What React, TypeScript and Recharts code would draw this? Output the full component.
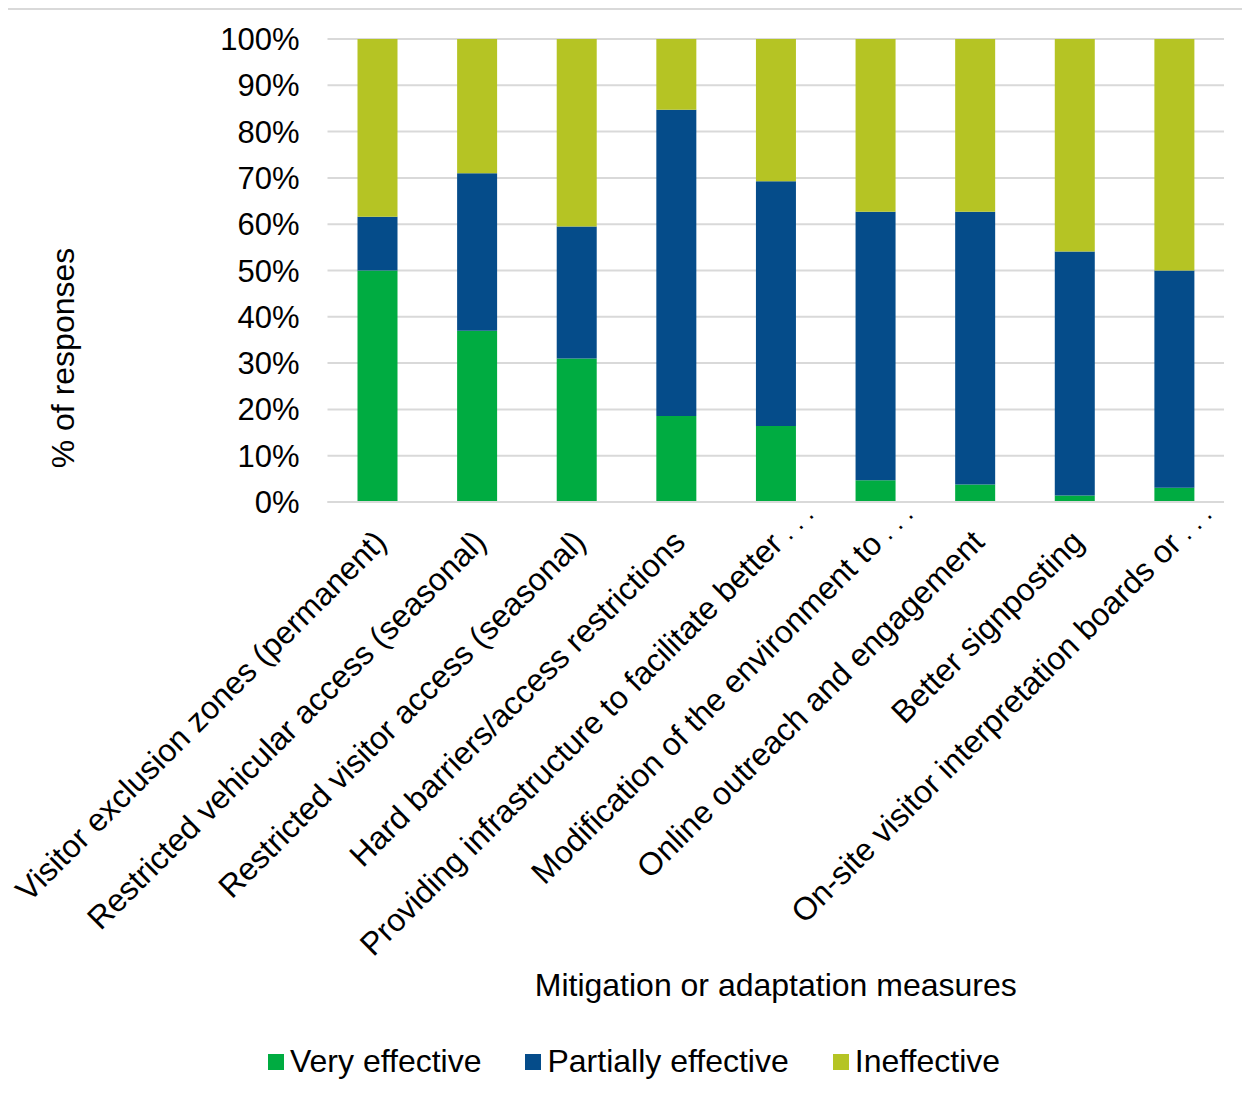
import React from 'react';
import { BarChart, Bar, XAxis, YAxis, CartesianGrid, Label } from 'recharts';

const categories = [
  'Visitor exclusion zones (permanent)',
  'Restricted vehicular access (seasonal)',
  'Restricted visitor access (seasonal)',
  'Hard barriers/access restrictions',
  'Providing infrastructure to facilitate better …',
  'Modification of the environment to…',
  'Online outreach and engagement',
  'Better signposting',
  'On-site visitor interpretation boards or…',
];

const veryEffective = [50, 37, 31, 18.6, 16.4, 4.7, 3.8, 1.4, 3.1];
const partiallyEffective = [11.6, 34, 28.5, 66.1, 52.9, 58, 58.9, 52.7, 46.9];
const ineffective = [38.4, 29, 40.5, 15.3, 30.7, 37.3, 37.3, 45.9, 50];

const yTicks = [0, 10, 20, 30, 40, 50, 60, 70, 80, 90, 100];

const series = [
  { key: 'very', name: 'Very effective', color: '#00ac41' },
  { key: 'partial', name: 'Partially effective', color: '#054c8a' },
  { key: 'ineffective', name: 'Ineffective', color: '#b5c424' },
];

const data = categories.map((name, i) => ({
  name,
  very: veryEffective[i],
  partial: partiallyEffective[i],
  ineffective: ineffective[i],
}));

const FONT = '"Liberation Sans", Arial, sans-serif';

// truncated labels: Excel draws the ellipsis as small spaced dots and
// keeps some room after it, so those labels sit further up the diagonal
const XTick = ({ x, y, payload }: any) => {
  const label: string = payload.value;
  const cut = label.endsWith('…');
  const base = cut ? label.slice(0, -1).trimEnd() : label;
  return (
    <g transform={`translate(${x + 11},${y + 42}) rotate(-45)`}>
      <text x={cut ? 40 : 0} textAnchor='end' fontSize={32} fontFamily={FONT} fill='#000'>
        {base}
        {cut && (
          <tspan fontSize={26} dx={7}>
            . . .
          </tspan>
        )}
      </text>
    </g>
  );
};

const YTitle = () => (
  <text
    transform='translate(66,350) rotate(-90)'
    textAnchor='middle'
    fontSize={32}
    fontFamily={FONT}
    fill='#000'
  >
    % of responses
  </text>
);

export default function App() {
  return (
    <div style={{ position: 'relative', width: 1242, height: 1091 }}>
      <BarChart
        width={1242}
        height={1091}
        data={data}
        margin={{ top: 31, right: 26, left: 0, bottom: 97 }}
        barSize={40}
      >
        <CartesianGrid vertical={false} stroke='#d9d9d9' strokeWidth={2} />
        <XAxis
          dataKey='name'
          interval={0}
          height={500}
          tick={<XTick />}
          tickLine={false}
          tickSize={0}
          tickMargin={0}
          axisLine={{ stroke: '#d9d9d9', strokeWidth: 2 }}
        >
          <Label
            value='Mitigation or adaptation measures'
            position='insideBottom'
            offset={6}
            fontSize={32}
            fontFamily={FONT}
            fill='#000'
          />
        </XAxis>
        <YAxis
          width={319.5}
          domain={[0, 100]}
          ticks={yTicks}
          interval={0}
          tickFormatter={v => `${v}%`}
          tick={{ fontSize: 31, fontFamily: FONT, fill: '#000' }}
          tickLine={false}
          axisLine={false}
          tickSize={0}
          tickMargin={28}
        >
          <Label content={<YTitle />} />
        </YAxis>
        {series.map(s => (
          <Bar
            key={s.key}
            dataKey={s.key}
            name={s.name}
            stackId='a'
            fill={s.color}
            isAnimationActive={false}
          />
        ))}
      </BarChart>
      <div
        style={{
          position: 'absolute',
          left: 0,
          width: 1242,
          top: 1035,
          display: 'flex',
          justifyContent: 'center',
          paddingLeft: 10,
          boxSizing: 'border-box',
          gap: 44,
          fontFamily: FONT,
          fontSize: 32,
          color: '#000',
        }}
      >
        {series.map(s => (
          <div key={s.key} style={{ display: 'flex', alignItems: 'center', gap: 6 }}>
            <span style={{ width: 16, height: 16, background: s.color, display: 'inline-block' }} />
            <span>{s.name}</span>
          </div>
        ))}
      </div>
      <div
        style={{
          position: 'absolute',
          left: -3,
          top: 0,
          width: 1245,
          height: 1091,
          boxSizing: 'border-box',
          borderTop: '2px solid #d9d9d9',
          borderLeft: '2px solid #d9d9d9',
          pointerEvents: 'none',
          zIndex: 1,
        }}
      />
    </div>
  );
}
